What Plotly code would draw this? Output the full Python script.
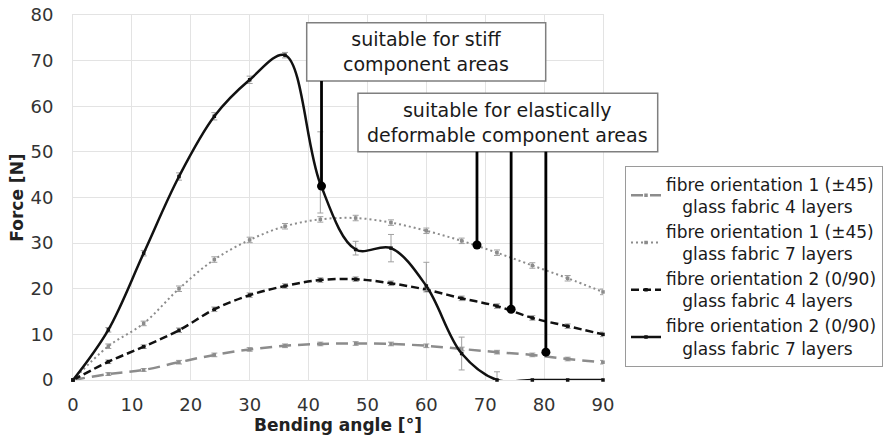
import plotly.graph_objects as go

# ---- data ----
angle = [0, 6, 12, 18, 24, 30, 36, 42, 48, 54, 60, 66, 72, 78, 84, 90]

f_or1_4 = [0, 1.3, 2.2, 3.9, 5.5, 6.7, 7.5, 7.9, 8.0, 7.9, 7.5, 6.8, 6.1, 5.5, 4.6, 3.9]
f_or1_7 = [0, 7.4, 12.4, 20.0, 26.4, 30.7, 33.7, 35.2, 35.5, 34.5, 32.7, 30.5, 27.9, 25.1, 22.3, 19.3]
f_or2_4 = [0, 4.0, 7.3, 10.9, 15.5, 18.6, 20.6, 21.9, 22.1, 21.2, 19.8, 17.9, 16.2, 13.6, 11.8, 10.0]
f_or2_7 = [0, 11.0, 27.8, 44.6, 57.8, 65.8, 71.2, 43.0, 28.6, 28.9, 20.6, 5.8, 0, 0, 0, 0]

err_or1_4 = [0, 0.3, 0.3, 0.4, 0.4, 0.4, 0.4, 0.4, 0.4, 0.4, 0.4, 0.4, 0.4, 0.4, 0.4, 0.4]
err_or1_7 = [0, 0.5, 0.5, 0.6, 0.6, 0.6, 0.6, 0.6, 0.6, 0.6, 0.6, 0.6, 0.6, 0.6, 0.6, 0.6]
err_or2_4 = [0, 0.4, 0.4, 0.5, 0.5, 0.5, 0.5, 0.5, 0.5, 0.5, 0.5, 0.5, 0.5, 0.5, 0.5, 0.5]
err_or2_7_plus = [0, 0.5, 0.6, 0.8, 0.8, 0.8, 0.6, 11.4, 1.8, 3.0, 5.2, 3.6, 1.8, 0, 0, 0]
err_or2_7_minus = [0, 0.5, 0.6, 0.8, 0.8, 0.8, 0.6, 6.4, 1.2, 3.0, 1.0, 3.6, 0, 0, 0, 0]

names = [
    "fibre orientation 1 (±45)<br>\u00a0\u00a0\u00a0glass fabric 4 layers",
    "fibre orientation 1 (±45)<br>\u00a0\u00a0\u00a0glass fabric 7 layers",
    "fibre orientation 2 (0/90)<br>\u00a0\u00a0\u00a0glass fabric 4 layers",
    "fibre orientation 2 (0/90)<br>\u00a0\u00a0\u00a0glass fabric 7 layers",
]

# callout target points (bending angle, force)
call_x = [42.2, 68.6, 74.4, 80.3]
call_y = [42.5, 29.6, 15.5, 6.1]
call_box = [0, 1, 1, 1]
box_text = ["suitable for stiff<br>component areas",
            "suitable for elastically<br>deformable component areas"]

x_ticks = [0, 10, 20, 30, 40, 50, 60, 70, 80, 90]
y_ticks = [0, 10, 20, 30, 40, 50, 60, 70, 80]

# ---- layout geometry (pixels) ----
W, H = 887, 445
L, R, T, B = 73, 603, 15, 380          # plot area in pixels
def px(x):
    return (x - L) / (R - L)
def py(y):
    return (B - y) / (B - T)

FONT = "DejaVu Sans"
GRID = "#e3e3e3"

fig = go.Figure()

styles = [
    dict(color="#8c8c8c", dash="12px,7px", width=2.5),
    dict(color="#8c8c8c", dash="2px,3px", width=2),
    dict(color="#111111", dash="8px,4px", width=2.5),
    dict(color="#111111", dash="solid", width=2.5),
]
ys = [f_or1_4, f_or1_7, f_or2_4, f_or2_7]
errs = [(err_or1_4, err_or1_4), (err_or1_7, err_or1_7), (err_or2_4, err_or2_4),
        (err_or2_7_plus, err_or2_7_minus)]

for i in range(4):
    fig.add_trace(go.Scatter(
        x=angle, y=ys[i], name=names[i], mode="lines+markers",
        line=dict(shape="spline", smoothing=1.0, **styles[i]),
        marker=dict(symbol="square", size=3.5, color=styles[i]["color"]),
        error_y=dict(type="data", symmetric=False, array=errs[i][0], arrayminus=errs[i][1],
                     color="#a0a0a0", thickness=1, width=3),
        cliponaxis=False,
    ))

# callout dots
fig.add_trace(go.Scatter(
    x=call_x, y=call_y, mode="markers", showlegend=False,
    marker=dict(size=9, color="#000000"), cliponaxis=False,
))

# boxes (pixel geometry)
boxes = [(306.7, 22.7, 545.7, 81.0), (358.0, 93.3, 657.7, 151.7)]
yscale = (B - T) / 80.0
shapes = []
annotations = []
for bi, (x0, y0, x1, y1) in enumerate(boxes):
    shapes.append(dict(type="rect", xref="paper", yref="paper",
                       x0=px(x0), x1=px(x1), y0=py(y1), y1=py(y0),
                       line=dict(color="#7f7f7f", width=1.5), fillcolor="white", layer="above"))
    annotations.append(dict(xref="paper", yref="paper", x=px((x0 + x1) / 2), y=py((y0 + y1) / 2),
                            text=box_text[bi], showarrow=False, xanchor="center", yanchor="middle",
                            font=dict(family=FONT, size=19, color="#1a1a1a")))

for cx, cy, cb in zip(call_x, call_y, call_box):
    ybottom = (B - boxes[cb][3]) / yscale
    shapes.append(dict(type="line", xref="x", yref="y", x0=cx, x1=cx, y0=cy, y1=ybottom,
                       line=dict(color="#000000", width=2.8), layer="above"))

fig.update_layout(
    width=W, height=H,
    margin=dict(l=L, r=W - R, t=T, b=H - B, pad=0, autoexpand=False),
    paper_bgcolor="white", plot_bgcolor="white",
    font=dict(family=FONT, size=18, color="#333333"),
    shapes=shapes, annotations=annotations,
    legend=dict(x=px(625), y=py(165.7), xanchor="left", yanchor="top",
                bordercolor="#9a9a9a", borderwidth=1, bgcolor="white",
                font=dict(family=FONT, size=17, color="#1a1a1a"),
                tracegroupgap=0, itemwidth=30),
    showlegend=True,
)
fig.update_xaxes(range=[0, 90], tickvals=x_ticks, ticktext=[str(v) for v in x_ticks],
                 showgrid=True, gridcolor=GRID, gridwidth=1, zeroline=False,
                 showline=True, linecolor=GRID, linewidth=1, mirror=True, layer="below traces",
                 ticks="outside", ticklen=8, tickcolor="rgba(0,0,0,0)",
                 ticklabeloverflow="allow",
                 tickfont=dict(family=FONT, size=18, color="#333333"),
                 title=dict(text="<b>Bending angle [°]</b>", standoff=5,
                            font=dict(family=FONT, size=17, color="#222222")))
fig.update_yaxes(range=[0, 80], tickvals=y_ticks, ticktext=[str(v) for v in y_ticks],
                 showgrid=True, gridcolor=GRID, gridwidth=1, zeroline=False,
                 showline=True, linecolor=GRID, linewidth=1, mirror=True, layer="below traces",
                 ticks="outside", ticklen=15, tickcolor="rgba(0,0,0,0)",
                 ticklabeloverflow="allow",
                 tickfont=dict(family=FONT, size=18, color="#333333"),
                 title=dict(text="<b>Force [N]</b>", standoff=2,
                            font=dict(family=FONT, size=17, color="#222222")))

fig.write_html("out.html", post_script="document.body.style.margin='0';",
               config={"displayModeBar": False})
